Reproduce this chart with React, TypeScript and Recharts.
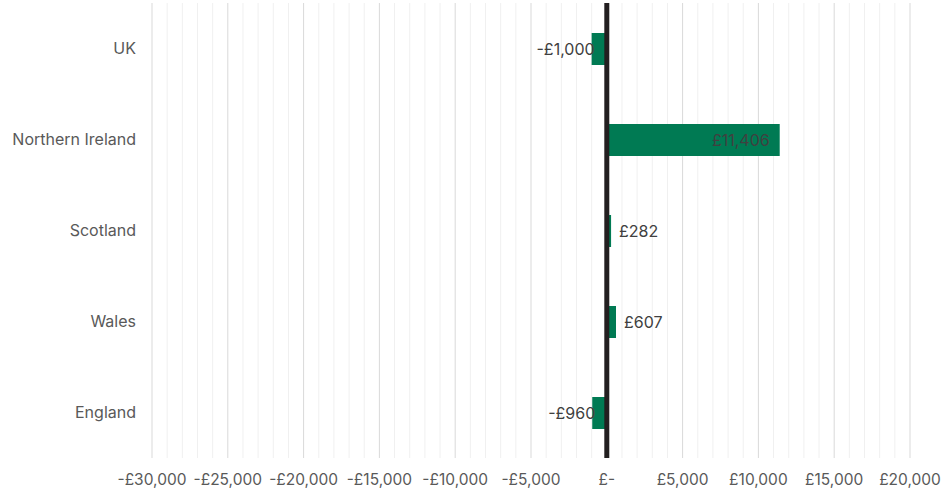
import React from "react";
import {
  BarChart, Bar, XAxis, YAxis, CartesianGrid, ReferenceLine, LabelList
} from "recharts";

const regions = ["UK", "Northern Ireland", "Scotland", "Wales", "England"];
const changeValues = [-1000, 11406, 282, 607, -960];
const majorTicks = [-30000, -25000, -20000, -15000, -10000, -5000, 0, 5000, 10000, 15000, 20000];
const minorTicks = [
  -29000, -28000, -27000, -26000, -24000, -23000, -22000, -21000,
  -19000, -18000, -17000, -16000, -14000, -13000, -12000, -11000,
  -9000, -8000, -7000, -6000, -4000, -3000, -2000, -1000,
  1000, 2000, 3000, 4000, 6000, 7000, 8000, 9000,
  11000, 12000, 13000, 14000, 16000, 17000, 18000, 19000,
];

const data = regions.map((region, i) => ({ region, value: changeValues[i] }));

const FONT = "Inter, sans-serif";

const formatPounds = (v: number) => {
  if (v === 0) return "£-";
  const s = "£" + Math.abs(v).toLocaleString("en-GB");
  return v < 0 ? "-" + s : s;
};

const BarLabel = (props: any) => {
  const { x, y, width, height, value } = props;
  const left = Math.min(x, x + width);
  const right = Math.max(x, x + width);
  const cy = y + height / 2;
  let tx = right + 8;
  let anchor: "start" | "end" = "start";
  if (value < 0) {
    tx = left + 3;
    anchor = "end";
  } else if (value > 5000) {
    tx = right - 10;
    anchor = "end";
  }
  return (
    <text
      x={tx}
      y={cy}
      textAnchor={anchor}
      dominantBaseline="central"
      fill="#404040"
      fontSize={16}
      fontFamily={FONT}
    >
      {formatPounds(value)}
    </text>
  );
};

export default function App() {
  return (
    <div style={{ position: "absolute", left: 0, top: 0, width: 951, height: 489, background: "#fff" }}>
      <BarChart
        width={951}
        height={489}
        data={data}
        layout="vertical"
        margin={{ top: 3, right: 41, bottom: 0, left: 0 }}
      >
        <CartesianGrid horizontal={false} stroke="#f0f0f0" verticalValues={minorTicks} />
        <CartesianGrid horizontal={false} stroke="#d9d9d9" />
        <XAxis
          type="number"
          domain={[-30000, 20000]}
          ticks={majorTicks}
          interval={0}
          tickFormatter={formatPounds}
          axisLine={false}
          tickLine={false}
          tickSize={0}
          tickMargin={16}
          height={31}
          tick={{ fill: "#595959", fontSize: 15.5, fontFamily: FONT }}
        />
        <YAxis
          type="category"
          dataKey="region"
          width={152}
          axisLine={false}
          tickLine={false}
          tickSize={0}
          tickMargin={16}
          tick={{ fill: "#595959", fontSize: 16, fontFamily: FONT }}
        />
        <Bar dataKey="value" fill="#007A53" barSize={32} isAnimationActive={false}>
          <LabelList dataKey="value" content={<BarLabel />} />
        </Bar>
        <ReferenceLine x={0} stroke="#231f20" strokeWidth={5} />
      </BarChart>
    </div>
  );
}
